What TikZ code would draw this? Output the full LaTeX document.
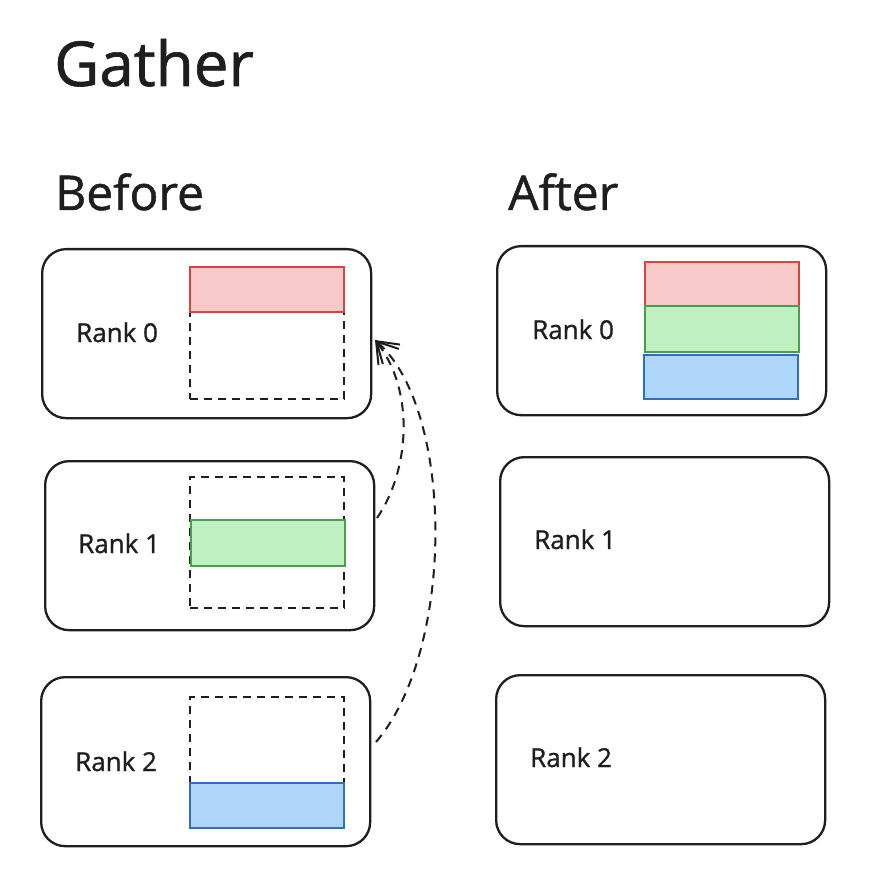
\documentclass[tikz,border=0pt]{standalone}
\usepackage{fontspec}
\setmainfont{Open Sans}[FakeBold=1]
\usetikzlibrary{arrows.meta}
\definecolor{ink}{HTML}{1E1E1E}
\definecolor{redS}{HTML}{D9443F}
\definecolor{redF}{HTML}{F7C9C9}
\definecolor{greenS}{HTML}{4A9E4E}
\definecolor{greenF}{HTML}{BEF0C2}
\definecolor{blueS}{HTML}{2E6FC0}
\definecolor{blueF}{HTML}{AED6F9}
\tikzset{
  rankbox/.style={draw=ink, line width=2.3pt, rounded corners=24pt, minimum width=329pt, minimum height=169pt, inner sep=0pt, anchor=north west},
  slot/.style={draw=ink, line width=1.9pt, dash pattern=on 8pt off 6pt, minimum width=154pt, inner sep=0pt, anchor=north west},
  redblk/.style={draw=redS, fill=redF, line width=2pt, minimum width=154pt, inner sep=0pt, anchor=north west},
  greenblk/.style={draw=greenS, fill=greenF, line width=2pt, minimum width=154pt, inner sep=0pt, anchor=north west},
  blueblk/.style={draw=blueS, fill=blueF, line width=2pt, minimum width=154pt, inner sep=0pt, anchor=north west},
  ranklbl/.style={text=ink, font=\fontsize{26}{26}\selectfont, anchor=base west, inner sep=0pt},
  heading/.style={text=ink, font=\fontsize{48}{48}\selectfont, anchor=base west, inner sep=0pt},
  flow/.style={draw=ink, line width=2pt, dash pattern=on 9pt off 7pt, -{Straight Barb[length=20pt,width=26pt,line width=2pt]}}
}
\begin{document}
\begin{tikzpicture}[x=1pt,y=-1pt]
\useasboundingbox[fill=white] (0,0) rectangle (882,890);
% titles
\node[text=ink, font=\fontsize{62}{62}\selectfont, anchor=base west, inner sep=0pt] (title) at (54,86) {Gather};
\node[heading] (before) at (55,210) {Before};
\node[heading] (after) at (508,210) {After};
% Before boxes
\node[rankbox] (b0) at (41,248) {};
\node[rankbox] (b1) at (44,460) {};
\node[rankbox] (b2) at (40,676) {};
\node[ranklbl] (l0) at (76,342) {Rank 0};
\node[ranklbl] (l1) at (78,553) {Rank 1};
\node[ranklbl] (l2) at (75,771) {Rank 2};
% Before slots
\node[slot, minimum height=87pt] (d0) at (189,311) {};
\node[redblk, minimum height=45pt] (r0) at (189,266) {};
\node[slot, minimum height=131pt] (d1) at (189,476) {};
\node[greenblk, minimum height=46pt] (g1) at (190,519) {};
\node[slot, minimum height=131pt] (d2) at (189,696) {};
\node[blueblk, minimum height=45pt] (bl2) at (189,782) {};
% After boxes
\node[rankbox] (a0) at (496,245) {};
\node[rankbox] (a1) at (499,456) {};
\node[rankbox] (a2) at (495,674) {};
\node[ranklbl] (m0) at (532,339) {Rank 0};
\node[ranklbl] (m1) at (534,549) {Rank 1};
\node[ranklbl] (m2) at (530,767) {Rank 2};
\node[redblk, minimum height=44pt] (ar) at (644,261) {};
\node[greenblk, minimum height=46pt] (ag) at (644,305) {};
\node[blueblk, minimum height=44pt] (ab) at (643,354) {};
% arrows
\coordinate (s1) at (377,518);
\coordinate (s2) at (376,742);
\coordinate (tip) at (375,340);
\draw[flow] (s1) .. controls (410,470) and (415,390) .. (tip);
\draw[flow] (s2) .. controls (455,650) and (455,410) .. (tip);
\end{tikzpicture}
\end{document}
